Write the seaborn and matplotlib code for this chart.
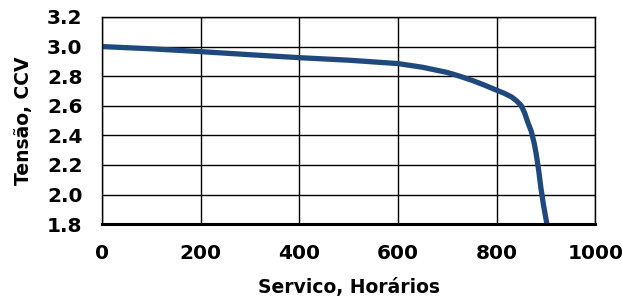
import matplotlib
matplotlib.use("Agg")
import matplotlib.pyplot as plt
import seaborn as sns
import pandas as pd

hours = [0, 100, 200, 300, 400, 500, 600, 650, 700, 725, 750, 775, 800, 815, 830, 840, 850, 857, 863, 870, 876, 880, 885, 890, 895, 902]
volts = [3.0, 2.985, 2.966, 2.945, 2.925, 2.908, 2.885, 2.86, 2.825, 2.80, 2.772, 2.74, 2.705, 2.685, 2.66, 2.635, 2.60, 2.55, 2.49, 2.43, 2.35, 2.28, 2.17, 2.04, 1.93, 1.80]
xticks = [0, 200, 400, 600, 800, 1000]
yticks = [1.8, 2.0, 2.2, 2.4, 2.6, 2.8, 3.0, 3.2]

sns.set_style("white")
plt.rcParams['font.family'] = ['DejaVu Sans']
plt.rcParams['text.color'] = 'black'
plt.rcParams['axes.labelcolor'] = 'black'
plt.rcParams['xtick.color'] = 'black'
plt.rcParams['ytick.color'] = 'black'

df = pd.DataFrame({"h": hours, "v": volts})
fig = plt.figure(figsize=(6.22, 2.98), dpi=100)
ax = fig.add_axes([0.164, 0.248, 0.793, 0.695])
sns.lineplot(data=df, x="h", y="v", ax=ax, color="#1F497D", linewidth=3.8)
ax.set_xlim(0, 1000)
ax.set_ylim(1.8, 3.2)
ax.set_xticks(xticks)
ax.set_yticks(yticks)
ax.set_xticklabels([str(t) for t in xticks], fontsize=14.5, fontweight='bold')
ax.set_yticklabels([f"{t:.1f}" for t in yticks], fontsize=14.5, fontweight='bold')
ax.grid(True, color="black", linewidth=1.0)
ax.tick_params(length=0)
ax.tick_params(axis='y', pad=14)
ax.tick_params(axis='x', pad=14)
for s in ["top", "right", "left"]:
    ax.spines[s].set_color("black")
    ax.spines[s].set_linewidth(1.0)
ax.spines["bottom"].set_color("black")
ax.spines["bottom"].set_linewidth(2.2)
ax.set_xlabel("Servico, Horários", fontsize=13.5, fontweight='bold', labelpad=11)
ax.set_ylabel("Tensão, CCV", fontsize=13.5, fontweight='bold', labelpad=10)
fig.savefig("out.png", dpi=100)
